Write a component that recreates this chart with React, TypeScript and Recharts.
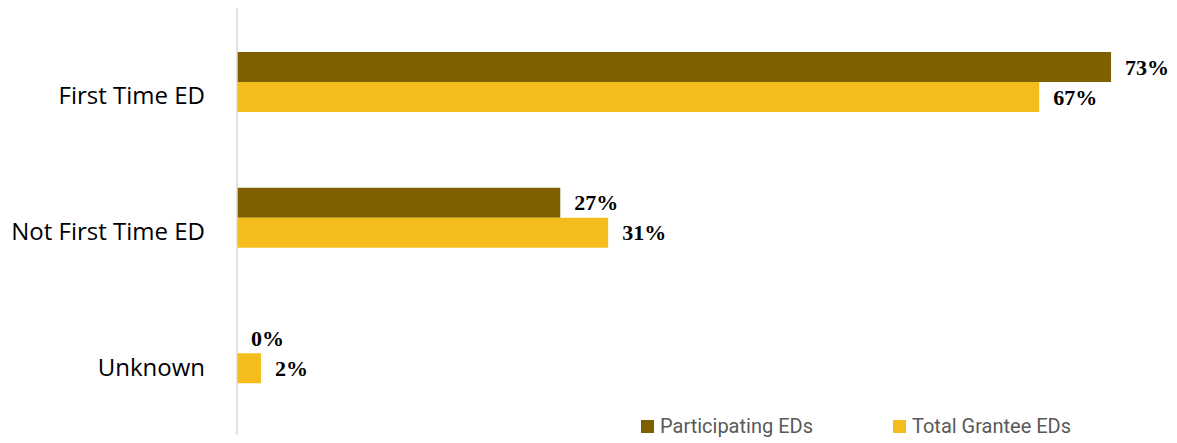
import React from 'react';
import { BarChart, Bar, XAxis, YAxis, Legend, LabelList, ReferenceLine } from 'recharts';

const categories = ['First Time ED', 'Not First Time ED', 'Unknown'];
const participating = [73, 27, 0];
const totalGrantee = [67, 31, 2];

const data = categories.map((name, i) => ({
  name,
  participating: participating[i],
  total: totalGrantee[i],
}));

const COLORS = { participating: '#7F6000', total: '#F5BD1C' };

const legendItems = [
  { label: 'Participating EDs', color: COLORS.participating },
  { label: 'Total Grantee EDs', color: COLORS.total },
];

const renderLegend = () => (
  <div style={{ display: 'flex', fontFamily: 'Roboto, sans-serif', fontSize: 20, color: '#595959' }}>
    {legendItems.map((item) => (
      <div key={item.label} style={{ display: 'flex', alignItems: 'center', marginRight: 80 }}>
        <span style={{ width: 13, height: 13, background: item.color, display: 'inline-block', marginRight: 6 }} />
        <span>{item.label}</span>
      </div>
    ))}
  </div>
);

// draws the value even when the bar has zero width
const renderValue = (props: any) => {
  const { x, y, width, height, value } = props;
  return (
    <text
      x={Number(x) + Number(width) + 14}
      y={Number(y) + Number(height) / 2}
      dy="0.35em"
      fontFamily='"Liberation Serif", serif'
      fontWeight="bold"
      fontSize={22}
      fill="#000"
    >
      {`${value}%`}
    </text>
  );
};

const App: React.FC = () => {
  return (
    <div style={{ position: 'absolute', left: 0, top: 0 }}>
      <BarChart
        width={1177}
        height={443}
        data={data}
        layout="vertical"
        margin={{ top: 8, right: 42, bottom: 8, left: 0 }}
        barGap={0}
        barSize={30}
      >
        <XAxis type="number" domain={[0, 75]} hide />
        <YAxis
          type="category"
          dataKey="name"
          width={237}
          axisLine={false}
          tickLine={false}
          tickMargin={26}
          padding={{ top: 6, bottom: 14 }}
          tick={{ fontSize: 24, fill: '#000', fontFamily: '"Open Sans", sans-serif', dy: 14 }}
        />
        <ReferenceLine x={0} stroke="#d9d9d9" strokeWidth={1.5} />
        <Legend
          verticalAlign="middle"
          align="center"
          layout="horizontal"
          content={renderLegend}
          wrapperStyle={{ top: 414, left: 641, width: 'auto' }}
        />
        <Bar dataKey="participating" fill={COLORS.participating} minPointSize={0.01} isAnimationActive={false}>
          <LabelList dataKey="participating" content={renderValue} />
        </Bar>
        <Bar dataKey="total" fill={COLORS.total} isAnimationActive={false}>
          <LabelList dataKey="total" content={renderValue} />
        </Bar>
      </BarChart>
    </div>
  );
};

export default App;
